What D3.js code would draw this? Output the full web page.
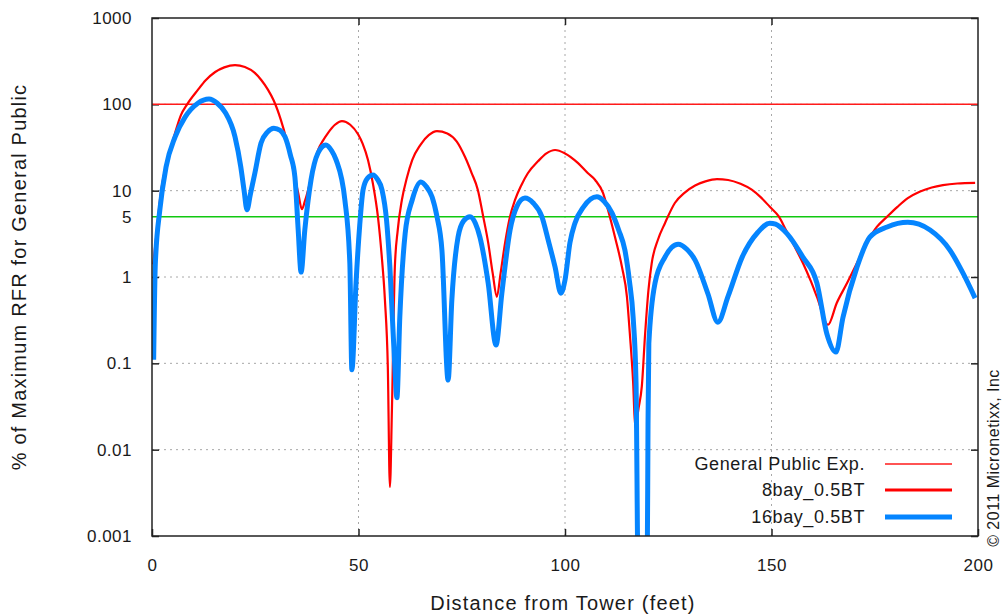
<html>
<head>
<meta charset="utf-8">
<script src="https://d3js.org/d3.v7.min.js"></script>
<style>
body {margin:0; background:white;}
text {font-family: 'Liberation Sans', Arial, sans-serif; fill:#1a1a1a;}
.tick text {font-size:17px; letter-spacing:0.5px;}
.grid line {stroke:#a8a8a8; stroke-width:1; stroke-dasharray:2,4;}
</style>
</head>
<body>
<div id="chart"></div>
<script>
// distances (feet) and % of max RFR
var dist8 = [0.3,1,2.2,3.9,5.5,7,8.5,11.1,13,15.3,17.5,20.1,22.5,24.9,26.5,28.1,29.5,31.2,32.5,33.7,34.6,35.4,36.3,37,37.8,39,40.2,41.4,42.6,44.3,46,48,49.9,51,52.3,53.5,54.7,55.6,56.4,57.1,57.6,58.1,58.8,59.5,60.5,61.7,63,65,67,69,71.5,73.8,75.8,77.4,78.9,80.2,81.4,82.5,83.5,84.4,85.5,86.6,87.9,89.4,91,93.5,95.5,97.6,100,103.1,105.5,107.3,109.2,110.4,112.1,113.8,115,115.7,116.5,117,117.8,118.6,119.4,120.2,121,122.5,124.2,126.6,129,131.5,134,136.8,139.5,142.5,145.3,147.5,149.6,151.8,153.5,155.5,157.6,159.5,161,163.7,165.8,168.3,170.7,173.1,175.5,178,180.5,183,186,188.8,191.5,195,199.3];
var val8 = [1.4,2.9,10,24,45,75,100,147,190,237,268,285,270,231,190,147,110,66,40,22.6,14,9.4,6.1,7.5,10.2,18,29.5,38,46.5,58,64,58,45,35,22.6,12,5,1.8,0.54,0.09,0.0037,0.03,1.3,3.5,7.8,14,22.6,34,44,49,46,37,24.5,16,10.2,5,2.5,1.1,0.59,1.1,2.5,4.8,7.8,11.5,15.9,22,27,29.6,27,21,16,13.3,9.4,6,2.9,1.3,0.59,0.22,0.06,0.018,0.03,0.054,0.22,0.7,1.45,2.7,4.2,7.2,9.5,11.5,12.8,13.6,13.3,12,10.2,8.3,6.5,5,3.5,2.3,1.45,0.9,0.59,0.28,0.5,0.85,1.45,2.5,3.8,5,6.5,8.2,9.8,10.9,11.6,12.1,12.3];

var dist16 = [0.4,0.8,1.9,3.4,5.6,8,11.1,13.8,15.8,17.7,20.1,21.5,22.3,23,23.8,24.9,26.4,28,29.5,31,32.2,33.5,34.6,35.4,36.1,37,38.5,40.2,42.1,43.5,44.6,46.7,47.9,48.4,49.4,50.3,51.1,52.2,53.5,54.6,55.7,56.8,57.6,58.8,59.3,60,61.3,63,65.1,66.5,67.8,69,70.2,71.7,72.6,74.1,75.5,77,78.3,79.4,81.4,83.3,84.7,86.7,88.3,90.3,92.3,94.4,96,97.6,99,100,101.2,102.4,104.5,107.7,109.5,111.4,113,114.5,115.6,116.5,117.2,117.7,119.9,120.1,120.3,121.8,124.2,125.8,127.4,129.5,131.5,134.6,137,139.5,142.9,146.7,149.6,151,153.7,157.6,161,163.4,165.6,167.3,170.7,173.8,178,183,188.4,193.2,196.4,199.3];
var val16 = [0.11,1.4,6,18.8,42,71,103,115,103,81,42,18.8,10,6,9,15.9,35.6,48,53,50,42,26,14.4,3.5,1.14,3.5,13.3,27.3,33.8,29,22.6,7.8,1.45,0.084,0.85,4,10.2,14,15.2,13.5,10.2,4.5,1.3,0.09,0.04,0.34,3.2,7.8,12.6,11,8.5,5,2.05,0.064,0.54,2.9,4.5,5,4.2,2.9,0.85,0.163,0.64,3.5,6.5,8.2,7.2,5,2.6,1.3,0.65,0.92,2.5,4.2,6.5,8.5,7.5,5.5,3.5,2.05,0.9,0.34,0.06,0.0004,0.0004,0.02,0.17,0.85,1.7,2.2,2.4,2.1,1.57,0.64,0.3,0.6,1.7,3.3,4.2,4.1,3.2,1.7,0.85,0.22,0.135,0.34,1.3,2.9,3.8,4.3,3.5,2.05,1.1,0.57];

var limitPublic = 100;
var limitFive = 5;
var xTicks = [0,50,100,150,200];
var yTicks = [0.001,0.01,0.1,1,5,10,100,1000];
var yGrid = [0.01,0.1,1,10,100];
var xGrid = [50,100,150];
var legendNames = ["General Public Exp.","8bay_0.5BT","16bay_0.5BT"];

var pLeft = 152, pTop = 18, pRight = 978, pBottom = 536;

var svg = d3.select("#chart").append("svg").attr("width",1005).attr("height",615);

var x = d3.scaleLinear().domain([0,200]).range([pLeft,pRight]);
var y = d3.scaleLog().domain([0.001,1000]).range([pBottom,pTop]);

svg.append("clipPath").attr("id","plotclip")
  .append("rect").attr("x",pLeft).attr("y",pTop).attr("width",pRight-pLeft).attr("height",pBottom-pTop);

// grid
var grid = svg.append("g").attr("class","grid");
grid.selectAll(".hg").data(yGrid).enter().append("line")
  .attr("x1",pLeft).attr("x2",pRight)
  .attr("y1",function(d){return y(d);}).attr("y2",function(d){return y(d);});
grid.selectAll(".vg").data(xGrid).enter().append("line")
  .attr("y1",pTop).attr("y2",pBottom)
  .attr("x1",function(d){return x(d);}).attr("x2",function(d){return x(d);});

// axes with inward ticks
var yAxis = svg.append("g").attr("transform","translate("+pLeft+",0)")
  .call(d3.axisLeft(y).tickValues(yTicks).tickFormat(function(d){return String(d);}).tickSizeInner(-7).tickSizeOuter(0).tickPadding(20));
var xAxis = svg.append("g").attr("transform","translate(0,"+pBottom+")")
  .call(d3.axisBottom(x).tickValues(xTicks).tickFormat(d3.format("d")).tickSizeInner(-7).tickSizeOuter(0).tickPadding(23));
svg.append("g").attr("transform","translate("+pRight+",0)")
  .call(d3.axisRight(y).tickValues(yGrid.concat([1000,0.001])).tickFormat("").tickSizeInner(-7).tickSizeOuter(0));
svg.append("g").attr("transform","translate(0,"+pTop+")")
  .call(d3.axisTop(x).tickValues(xGrid).tickFormat("").tickSizeInner(-7).tickSizeOuter(0));
svg.selectAll(".domain").remove();
svg.selectAll(".tick line").attr("stroke","#222").attr("stroke-width",1.5);
yAxis.selectAll(".tick").filter(function(d){return d==5;}).select("line").remove();
svg.selectAll(".tick text").attr("fill","#1a1a1a");

// limit lines
var plot = svg.append("g").attr("clip-path","url(#plotclip)");
plot.append("line").attr("x1",pLeft).attr("x2",pRight)
  .attr("y1",y(limitPublic)).attr("y2",y(limitPublic))
  .attr("stroke","#ff1a1a").attr("stroke-width",1.5);
plot.append("line").attr("x1",pLeft).attr("x2",pRight)
  .attr("y1",y(limitFive)).attr("y2",y(limitFive))
  .attr("stroke","#10c810").attr("stroke-width",1.5);

var line = d3.line().curve(d3.curveMonotoneX)
  .x(function(d){return x(d[0]);}).y(function(d){return y(d[1]);});

plot.append("path").datum(d3.zip(dist8,val8))
  .attr("d",line).attr("fill","none").attr("stroke","#ff0000")
  .attr("stroke-width",2.2).attr("stroke-linejoin","round");
plot.append("path").datum(d3.zip(dist16,val16))
  .attr("d",line).attr("fill","none").attr("stroke","#0585ff")
  .attr("stroke-width",5).attr("stroke-linejoin","round");

// border
svg.append("rect").attr("x",pLeft).attr("y",pTop).attr("width",pRight-pLeft).attr("height",pBottom-pTop)
  .attr("fill","none").attr("stroke","#222").attr("stroke-width",1.5);

// legend
var legColors = ["#ff1a1a","#ff0000","#0585ff"];
var legWidths = [1.5,3,5];
var legY = [464,490,517];
var leg = svg.append("g");
leg.selectAll("text").data(legendNames).enter().append("text")
  .attr("x",865).attr("y",function(d,i){return legY[i];}).attr("dy","0.35em")
  .attr("text-anchor","end").style("font-size","18px").style("letter-spacing","0.6px")
  .text(function(d){return d;});
leg.selectAll("line").data(legendNames).enter().append("line")
  .attr("x1",885).attr("x2",952)
  .attr("y1",function(d,i){return legY[i];}).attr("y2",function(d,i){return legY[i];})
  .attr("stroke",function(d,i){return legColors[i];})
  .attr("stroke-width",function(d,i){return legWidths[i];});

// titles
svg.append("text").attr("transform","translate(563,603)").attr("text-anchor","middle")
  .attr("dy","0.35em").style("font-size","20px").style("letter-spacing","1.2px")
  .text("Distance from Tower (feet)");
svg.append("text").attr("transform","translate(19,277) rotate(-90)").attr("text-anchor","middle")
  .attr("dy","0.35em").style("font-size","20px").style("letter-spacing","1.2px")
  .text("% of Maximum RFR for General Public");
svg.append("text").attr("transform","translate(993,458) rotate(-90)").attr("text-anchor","middle")
  .attr("dy","0.35em").style("font-size","16px").style("letter-spacing","0.5px")
  .text("© 2011 Micronetixx, Inc");
</script>
</body>
</html>
